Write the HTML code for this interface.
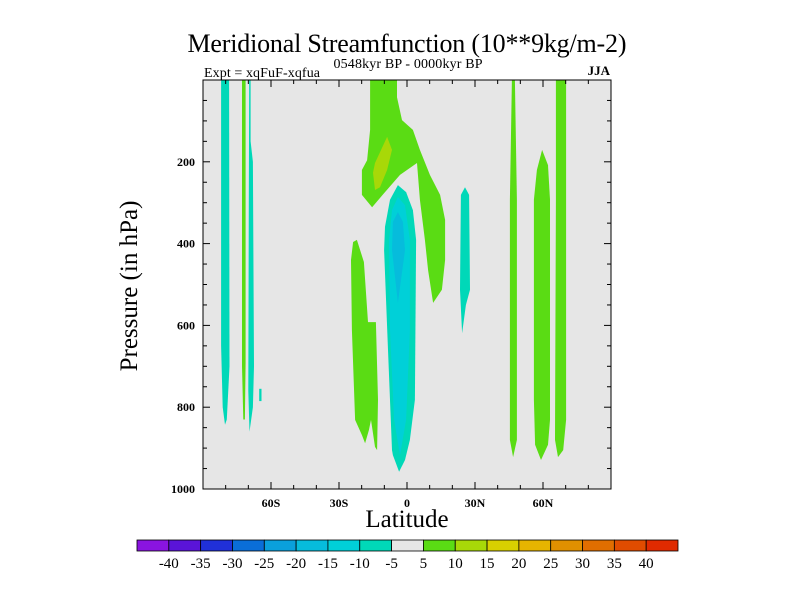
<!DOCTYPE html>
<html><head><meta charset="utf-8"><style>
body{margin:0;background:#fff;}
svg{display:block;font-family:"Liberation Serif",serif;}
</style></head><body>
<svg id="chart" width="800" height="600" viewBox="0 0 800 600">
<text x="407" y="52" font-size="26" text-anchor="middle" textLength="439">Meridional Streamfunction (10**9kg/m-2)</text>
<text x="204" y="77" font-size="14" textLength="116">Expt = xqFuF-xqfua</text>
<text x="408" y="68" font-size="14" text-anchor="middle" textLength="149">0548kyr BP - 0000kyr BP</text>
<text x="610" y="75" font-size="13" text-anchor="end" font-weight="bold">JJA</text>
<g id="plot"></g>
<g id="axes"></g>
<text x="0" y="0" font-size="25" text-anchor="middle" transform="translate(137,286) rotate(-90)">Pressure (in hPa)</text>
<text x="407" y="527" font-size="25" text-anchor="middle">Latitude</text>
<g id="colorbar"></g>
</svg>
<script>
const levelLabels=[-40,-35,-30,-25,-20,-15,-10,-5,5,10,15,20,25,30,35,40];
const levelColors=["#8a14e0","#5a14d8","#2030d8","#0a6ed8","#0aa0dc","#06bcdc","#00d0d8","#00d8b8","#e6e6e6","#5adc14","#a8d808","#d8d000","#e6b400","#e09000","#e06e00","#e04c00","#e02a00"];
const xTicks=[-60,-30,0,30,60];
const xTickLabels=["60S","30S","0","30N","60N"];
const yTicks=[200,400,600,800,1000];
const regionLevels=[7,9,7,7,9,10,7,6,5,9,7,9,9,9];
const regionShapes=[
[[-82,0],[-78.5,0],[-78.3,700],[-79.5,830],[-80.3,843],[-81.3,800],[-82,650]],
[[-72.8,0],[-71.2,0],[-71.2,690],[-71.5,830],[-72.2,830],[-72.8,700]],
[[-69.6,0],[-69,0],[-69,150],[-68,200],[-67.5,700],[-68,800],[-69.5,860],[-70,760],[-69.8,300]],
[[-65.2,755],[-64.2,755],[-64.2,785],[-65.2,785]],
[[-16.3,0],[-4.4,0],[-4.4,42],[-2.2,98],[2.6,122],[5.7,171],[10.1,232],[14.6,281],[16.8,342],[16.8,440],[15.4,513],[11.5,545],[9.3,465],[7.9,391],[5.7,293],[4.4,203],[-3.1,232],[-9.7,274],[-15.4,311],[-19.9,281],[-19.9,220],[-17.6,196],[-16.3,122]],
[[-8.8,139],[-6.6,171],[-8.8,220],[-11.9,262],[-14.1,269],[-15,227],[-14.1,203]],
[[-4,257],[-0.4,274],[2.6,318],[4,391],[3.5,782],[1.3,880],[-0.9,929],[-3.5,958],[-6.2,917],[-6.6,905],[-8.4,660],[-10.1,416],[-9.7,359],[-7.5,293]],
[[-4,286],[-0.9,306],[1.3,391],[1.3,611],[-0.4,831],[-3.1,917],[-5.7,831],[-7.5,611],[-7.9,391],[-6.6,318]],
[[-4,323],[-1.8,347],[-0.9,416],[-4,545],[-6.6,416],[-6.2,347]],
[[-22.1,391],[-19,445],[-17.2,592],[-13.7,592],[-12.8,782],[-13.2,905],[-14.1,897],[-15.9,831],[-16.8,856],[-18.5,888],[-19.9,868],[-22.9,831],[-24.3,611],[-24.7,440],[-23.8,396]],
[[23.8,281],[25.6,262],[27.4,281],[27.8,513],[26,550],[24.3,619],[23.4,513]],
[[46.3,0],[47.6,0],[48.5,293],[48.5,880],[46.8,922],[45.4,880],[45.4,293]],
[[59.6,171],[62.2,208],[63.1,293],[63.1,831],[62.2,892],[59.1,929],[56.5,892],[56,782],[56,293],[57.3,220]],
[[65.7,0],[70.2,0],[70.2,831],[68.9,905],[66.6,922],[65.3,880],[65.7,293]]
];
const NS="http://www.w3.org/2000/svg";
const X0=203,X1=611,Y0=80,Y1=489;
function xs(lat){return X0+(lat+90)/180*(X1-X0);}
function ys(p){return Y0+p/1000*(Y1-Y0);}
function mk(tag,attrs,parent){const e=document.createElementNS(NS,tag);for(const k in attrs)e.setAttribute(k,attrs[k]);parent.appendChild(e);return e;}
const plot=document.getElementById('plot');
const bg=mk('rect',{x:X0,y:Y0,width:X1-X0,height:Y1-Y0,fill:"#e6e6e6"},plot);


regionShapes.forEach((sh,i)=>{
  const pts=sh.map(d=>xs(d[0]).toFixed(1)+","+ys(d[1]).toFixed(1)).join(" ");
  const pg=mk('polygon',{points:pts,fill:levelColors[regionLevels[i]]},plot);
  
  
});
const axes=document.getElementById('axes');
const fr=mk('rect',{x:X0,y:Y0,width:X1-X0,height:Y1-Y0,fill:"none",stroke:"#000","stroke-width":1},axes);


for(let lat=-80;lat<=80;lat+=10){
  const L=(lat%30===0)?7:4;const x=xs(lat);
  mk('line',{x1:x,y1:Y1,x2:x,y2:Y1-L,stroke:"#000"},axes);
  mk('line',{x1:x,y1:Y0,x2:x,y2:Y0+L,stroke:"#000"},axes);
}
xTicks.forEach((v,i)=>{
  const t=mk('text',{x:xs(v),y:Y1+18,"font-size":12,"font-weight":"bold","text-anchor":"middle"},axes);
  t.textContent=xTickLabels[i];
  
  
});
for(let p=50;p<1000;p+=50){
  const L=(p%200===0)?7:4;const y=ys(p);
  mk('line',{x1:X0,y1:y,x2:X0+L,y2:y,stroke:"#000"},axes);
  mk('line',{x1:X1,y1:y,x2:X1-L,y2:y,stroke:"#000"},axes);
}
yTicks.forEach(v=>{
  const t=mk('text',{x:X0-8,y:ys(v)+4,"font-size":12,"font-weight":"bold","text-anchor":"end"},axes);
  t.textContent=v;
  
  
});
const cb=document.getElementById('colorbar');
const CB0=137,CB1=678,CBY=540,CBH=11,bw=(CB1-CB0)/levelColors.length;
levelColors.forEach((c,i)=>{
  const r=mk('rect',{x:CB0+i*bw,y:CBY,width:bw,height:CBH,fill:c,stroke:"#000","stroke-width":0.8},cb);
  
  
});
levelLabels.forEach((v,i)=>{
  const t=mk('text',{x:CB0+(i+1)*bw,y:CBY+28,"font-size":15,"text-anchor":"middle"},cb);
  t.textContent=v;
  
  
});
</script>
</body></html>
